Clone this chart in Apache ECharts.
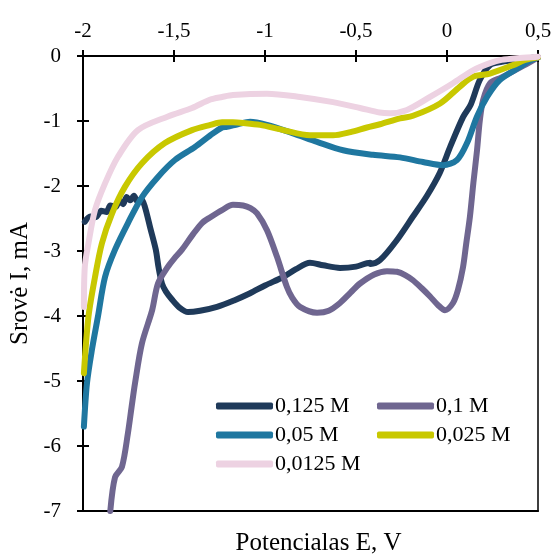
<!DOCTYPE html>
<html>
<head>
<meta charset="utf-8">
<script src="https://cdn.jsdelivr.net/npm/echarts@6/dist/echarts.min.js"></script>
<style>
html,body{margin:0;padding:0;background:#fff;}
#chart{width:554px;height:557px;}
</style>
</head>
<body>
<div id="chart"></div>
<script>
// Tick labels
var xTicks = [-2, -1.5, -1, -0.5, 0, 0.5];
var yTicks = [0, -1, -2, -3, -4, -5, -6, -7];
var seriesNames = ['0,125 M', '0,1 M', '0,05 M', '0,025 M', '0,0125 M'];
var seriesColors = ['#1f3a5a', '#6f6690', '#1f77a0', '#c8c800', '#edd2e2'];

// [potential E (V), current I (mA)]
var s0125 = [
  [0.5, -0.02], [0.40, -0.05], [0.30, -0.09], [0.236, -0.14], [0.18, -0.37], [0.13, -0.75],
  [0.088, -0.94], [0.02, -1.38], [-0.04, -1.8], [-0.11, -2.15], [-0.187, -2.47], [-0.28, -2.85],
  [-0.368, -3.14], [-0.42, -3.20], [-0.423, -3.18], [-0.50, -3.24], [-0.588, -3.26], [-0.68, -3.22],
  [-0.753, -3.18], [-0.83, -3.28], [-0.9, -3.4], [-1.0, -3.53], [-1.082, -3.65], [-1.17, -3.76],
  [-1.264, -3.86], [-1.357, -3.92], [-1.423, -3.94], [-1.47, -3.87], [-1.51, -3.75], [-1.545, -3.62],
  [-1.566, -3.5], [-1.585, -3.25], [-1.6, -2.98], [-1.63, -2.65], [-1.66, -2.32], [-1.68, -2.20],
  [-1.70, -2.24], [-1.72, -2.15], [-1.74, -2.22], [-1.76, -2.17], [-1.78, -2.28], [-1.80, -2.22],
  [-1.82, -2.32], [-1.85, -2.30], [-1.87, -2.40], [-1.90, -2.38], [-1.93, -2.48], [-1.96, -2.47],
  [-1.99, -2.55]
];
var s01 = [
  [0.5, -0.02], [0.42, -0.15], [0.30, -0.33], [0.236, -0.42], [0.198, -0.68], [0.18, -1.0],
  [0.165, -1.45], [0.145, -1.95], [0.126, -2.47], [0.105, -2.9], [0.088, -3.25], [0.06, -3.6],
  [0.033, -3.8], [-0.011, -3.91], [-0.05, -3.83], [-0.093, -3.7], [-0.14, -3.57], [-0.187, -3.45],
  [-0.23, -3.37], [-0.275, -3.32], [-0.33, -3.31], [-0.40, -3.36], [-0.478, -3.5], [-0.53, -3.64],
  [-0.588, -3.8], [-0.65, -3.92], [-0.714, -3.95], [-0.808, -3.86], [-0.85, -3.72], [-0.88, -3.55],
  [-0.934, -3.09], [-0.989, -2.68], [-1.044, -2.42], [-1.08, -2.34], [-1.12, -2.3], [-1.176, -2.29],
  [-1.236, -2.37], [-1.30, -2.48], [-1.346, -2.57], [-1.40, -2.76], [-1.456, -2.98], [-1.50, -3.12],
  [-1.533, -3.24], [-1.588, -3.5], [-1.62, -3.91], [-1.676, -4.42], [-1.714, -5.03], [-1.733, -5.4],
  [-1.753, -5.8], [-1.786, -6.32], [-1.824, -6.48], [-1.85, -7.0]
];
var s005 = [
  [0.5, -0.02], [0.45, -0.08], [0.40, -0.17], [0.29, -0.37], [0.22, -0.63], [0.165, -0.93],
  [0.11, -1.34], [0.055, -1.6], [-0.022, -1.68], [-0.132, -1.63], [-0.258, -1.56], [-0.407, -1.52],
  [-0.571, -1.45], [-0.714, -1.32], [-0.846, -1.19], [-0.989, -1.06], [-1.082, -1.01], [-1.15, -1.05],
  [-1.209, -1.09], [-1.236, -1.10], [-1.30, -1.22], [-1.385, -1.4], [-1.495, -1.6], [-1.588, -1.86],
  [-1.676, -2.17], [-1.753, -2.57], [-1.824, -2.98], [-1.879, -3.4], [-1.918, -4.01], [-1.951, -4.52],
  [-1.978, -5.03], [-1.995, -5.7]
];
var s0025 = [
  [0.5, -0.02], [0.43, -0.06], [0.363, -0.14], [0.236, -0.27], [0.143, -0.32], [0.071, -0.47],
  [-0.038, -0.73], [-0.187, -0.92], [-0.258, -0.96], [-0.368, -1.05], [-0.44, -1.1], [-0.53, -1.17],
  [-0.626, -1.22], [-0.753, -1.22], [-0.9, -1.14], [-1.027, -1.06], [-1.12, -1.03], [-1.176, -1.02],
  [-1.236, -1.02], [-1.30, -1.06], [-1.401, -1.14], [-1.55, -1.34], [-1.676, -1.65], [-1.769, -2.01],
  [-1.84, -2.42], [-1.896, -2.88], [-1.934, -3.4], [-1.97, -4.01], [-1.995, -4.88]
];
var s00125 = [
  [0.5, -0.01], [0.4, -0.03], [0.3, -0.06], [0.236, -0.11], [0.143, -0.22], [0.033, -0.42],
  [-0.093, -0.63], [-0.22, -0.83], [-0.313, -0.88], [-0.37, -0.87], [-0.478, -0.8], [-0.626, -0.71],
  [-0.808, -0.63], [-0.989, -0.58], [-1.176, -0.6], [-1.236, -0.63], [-1.30, -0.67], [-1.401, -0.8],
  [-1.533, -0.93], [-1.698, -1.14], [-1.808, -1.55], [-1.879, -1.96], [-1.934, -2.37], [-1.97, -2.88],
  [-1.99, -3.24], [-1.995, -3.86]
];
var seriesData = [s0125, s01, s005, s0025, s00125];

var FONT = 'Liberation Serif';
function fmt(v) { return String(v).replace('.', ','); }

var chart = echarts.init(document.getElementById('chart'), null, {renderer: 'canvas'});
var gridBox = {left: 83, top: 56, width: 455, height: 455};

var legendText = {fontFamily: FONT, fontSize: 22, color: '#000', lineHeight: 20, padding: [0, 0, 0, -3]};

var option = {
  backgroundColor: '#fff',
  animation: false,
  textStyle: {fontFamily: FONT, color: '#000'},
  grid: Object.assign({
    show: true, borderColor: '#000', borderWidth: 1.5, backgroundColor: 'transparent',
    containLabel: false, outerBoundsMode: 'none'
  }, gridBox),
  xAxis: [
    {
      type: 'value', position: 'top', min: xTicks[0], max: xTicks[xTicks.length - 1], interval: 0.5,
      axisLine: {show: true, onZero: false, lineStyle: {color: '#000', width: 2}},
      axisTick: {show: true, inside: false, length: 6, lineStyle: {color: '#000', width: 2}},
      axisLabel: {formatter: fmt, fontFamily: FONT, fontSize: 21, color: '#000', margin: 14},
      splitLine: {show: false}
    },
    {
      type: 'value', position: 'top', min: xTicks[0], max: xTicks[xTicks.length - 1], interval: 0.5,
      axisLine: {show: false, onZero: false},
      axisTick: {show: true, inside: true, length: 6, lineStyle: {color: '#000', width: 2}},
      axisLabel: {show: false}, splitLine: {show: false}
    },
    {
      type: 'value', position: 'bottom', min: xTicks[0], max: xTicks[xTicks.length - 1],
      axisLine: {show: true, onZero: false, lineStyle: {color: '#000', width: 2}},
      axisTick: {show: false}, axisLabel: {show: false}, splitLine: {show: false},
      name: 'Potencialas E, V', nameLocation: 'middle', nameGap: 20,
      nameTextStyle: {fontFamily: FONT, fontSize: 25, color: '#000', padding: [0, 0, 0, 16]}
    }
  ],
  yAxis: [
    {
      type: 'value', position: 'left', min: yTicks[yTicks.length - 1], max: yTicks[0], interval: 1,
      axisLine: {show: true, onZero: false, lineStyle: {color: '#000', width: 2}},
      axisTick: {show: true, inside: false, length: 6, lineStyle: {color: '#000', width: 2}},
      axisLabel: {formatter: fmt, fontFamily: FONT, fontSize: 21, color: '#000', margin: 22},
      splitLine: {show: false},
      name: 'Srovė I, mA', nameLocation: 'middle', nameGap: 42, nameRotate: 90,
      nameTextStyle: {fontFamily: FONT, fontSize: 25, color: '#000'}
    },
    {
      type: 'value', position: 'left', min: yTicks[yTicks.length - 1], max: yTicks[0], interval: 1,
      axisLine: {show: false, onZero: false},
      axisTick: {show: true, inside: true, length: 6, lineStyle: {color: '#000', width: 2}},
      axisLabel: {show: false}, splitLine: {show: false}
    }
  ],
  legend: [
    {
      orient: 'vertical', left: 211, top: 390, itemWidth: 57, itemHeight: 7, itemGap: 7,
      icon: 'roundRect',
      data: [seriesNames[0], seriesNames[2], seriesNames[4]],
      textStyle: legendText
    },
    {
      orient: 'vertical', left: 372, top: 390, itemWidth: 57, itemHeight: 7, itemGap: 7,
      icon: 'roundRect',
      data: [seriesNames[1], seriesNames[3]],
      textStyle: legendText
    }
  ],
  series: seriesNames.map(function (n, i) {
    return {
      name: n, type: 'line', xAxisIndex: 0, yAxisIndex: 0,
      data: seriesData[i], showSymbol: false, symbol: 'none', smooth: 0.3,
      clip: true,
      lineStyle: {color: seriesColors[i], width: 6, cap: 'round', join: 'round'},
      itemStyle: {color: seriesColors[i]},
      z: 2 + i
    };
  })
};
chart.setOption(option);
</script>
</body>
</html>
